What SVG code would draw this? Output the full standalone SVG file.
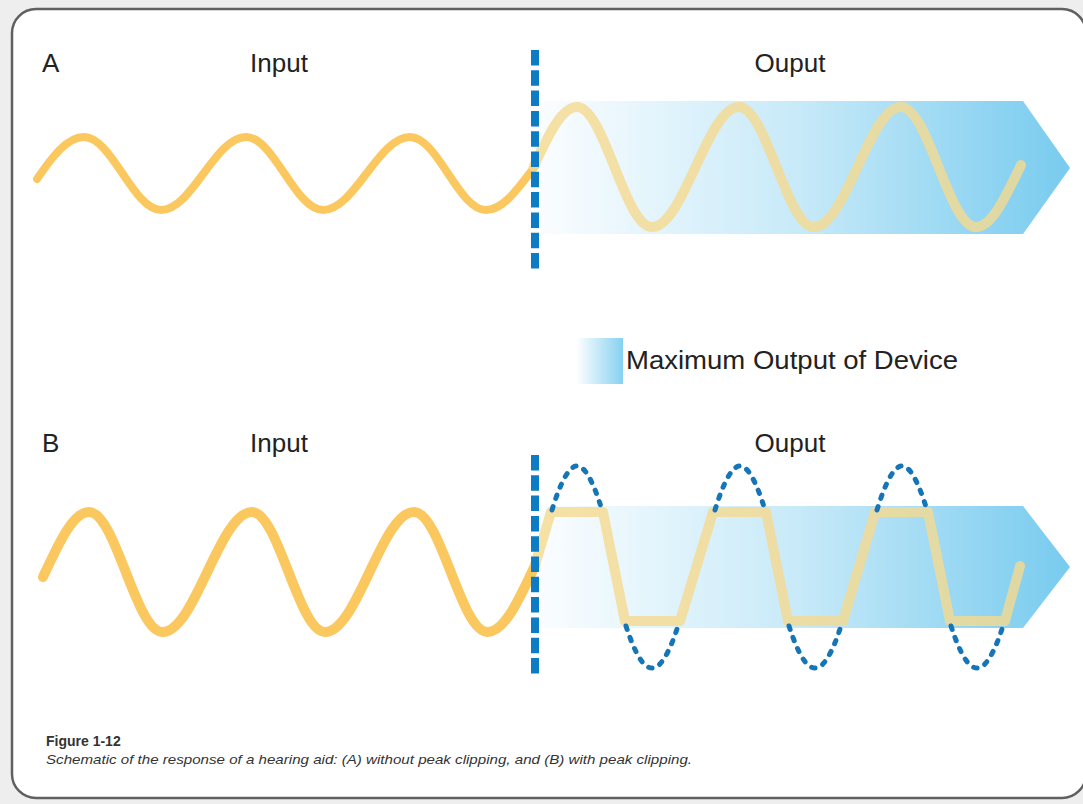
<svg xmlns="http://www.w3.org/2000/svg" width="1083" height="804" viewBox="0 0 1083 804">
  <defs>
    <linearGradient id="maxGrad" x1="0" y1="0" x2="1" y2="0">
      <stop offset="0" stop-color="#fafdff"/>
      <stop offset="0.5" stop-color="#c6e9f8"/>
      <stop offset="1" stop-color="#78cbef"/>
    </linearGradient>
    <linearGradient id="legGrad" x1="0" y1="0" x2="1" y2="0">
      <stop offset="0" stop-color="#ffffff"/>
      <stop offset="1" stop-color="#86d1f0"/>
    </linearGradient>
    <style>
      .lbl { font-family: "Liberation Sans", Arial, sans-serif; font-size: 26px; fill: #222222; }
      .input { fill: none; stroke: #fbc85f; stroke-linecap: round; stroke-linejoin: round; }
      .output { fill: none; stroke: #f5d98f; stroke-opacity: 0.8; stroke-width: 10; stroke-linecap: round; stroke-linejoin: round; }
      .divider { stroke: #0e7cc4; stroke-width: 8; stroke-dasharray: 15.5 4.8; fill: none; }
      .orig { fill: none; stroke: #1675b6; stroke-width: 5; stroke-linecap: round; stroke-dasharray: 3.5 8.5; }
      .cap { font-family: "Liberation Sans", Arial, sans-serif; fill: #333333; }
    </style>
  </defs>

  <rect x="0" y="0" width="1083" height="804" fill="#eeeeee"/>
  <rect id="frame" x="12" y="9" width="1074" height="789" rx="24" ry="24" fill="#ffffff" stroke="#606060" stroke-width="2.5"/>

  <!-- Panel A -->
  <g id="panelA">
    <text class="lbl" x="42" y="72">A</text>
    <text class="lbl" x="279" y="72" text-anchor="middle">Input</text>
    <text class="lbl" x="790" y="72" text-anchor="middle">Ouput</text>
    <polygon id="maxA" points="540,101 1023,101 1070,168 1023,234 540,234" fill="url(#maxGrad)"/>
    <path id="inputA" class="input" stroke-width="8" d="M37,179 C52,157 67,137 84,137 C112,137 133,210 161,210 C192,210 215,137 246,137 C274,137 295,210 323,210 C354.6,210 378.4,137 410,137 C437.6,137 458.4,210 486,210 C501.7,210 515.3,192.2 529.5,173.5 L535,166.5"/>
    <path id="outputA" class="output" d="M533.5,167 C547.7,136.3 561.3,107 577,107 C604.3,107 624.7,227 652,227 C683.6,227 707.4,107 739,107 C766.3,107 786.7,227 814,227 C845.6,227 869.4,107 901,107 C928.3,107 948.7,227 976,227 C991.7,227 1005.3,197.7 1021,165"/>
    <line id="dividerA" class="divider" x1="535" y1="50" x2="535" y2="273"/>
  </g>

  <!-- Legend -->
  <g id="legend">
    <rect x="576" y="338" width="47" height="46" fill="url(#legGrad)"/>
    <text class="lbl" x="626" y="369" textLength="332" lengthAdjust="spacingAndGlyphs">Maximum Output of Device</text>
  </g>

  <!-- Panel B -->
  <g id="panelB">
    <text class="lbl" x="42" y="452">B</text>
    <text class="lbl" x="279" y="452" text-anchor="middle">Input</text>
    <text class="lbl" x="790" y="452" text-anchor="middle">Ouput</text>
    <polygon id="maxB" points="540,506 1023,506 1070,567 1023,628 540,628" fill="url(#maxGrad)"/>
    <path id="inputB" class="input" stroke-width="10" d="M43,577 C58,545 72.5,512 89,512 C115.7,512 135.8,632 162.5,632 C195,632 219.5,512 252,512 C278.5,512 298.5,632 325,632 C357.3,632 381.7,512 414,512 C440.7,512 460.8,632 487.5,632 C503.6,632 517.5,602.7 532,572 L535,565"/>
    <path id="outputB" class="output" stroke-width="11" d="M535,565 L551,512 L603,512 L625,621 L680,621 L713,512 L766,512 L788,621 L843,621 L875,512 L928,512 L950,621 L1005,621 L1020,566"/>
    <g id="unclipped">
      <path class="orig" d="M552,510 C560.3,483 568.7,466 577,466 C585.3,466 593.7,483 602,510"/>
      <path class="orig" d="M715,510 C723.3,483 731.7,466 740,466 C748.3,466 756.7,483 765,510"/>
      <path class="orig" d="M877,510 C885.3,483 893.7,466 902,466 C910.3,466 918.7,483 927,510"/>
      <path class="orig" d="M626,626 C634.7,653 643.3,668 652,668 C660.7,668 669.3,653 678,626"/>
      <path class="orig" d="M789,626 C797.7,653 806.3,668 815,668 C823.7,668 832.3,653 841,626"/>
      <path class="orig" d="M951,626 C959.7,653 968.3,668 977,668 C985.7,668 994.3,653 1003,626"/>
    </g>
    <line id="dividerB" class="divider" x1="535" y1="455" x2="535" y2="678"/>
  </g>

  <!-- Caption -->
  <g id="caption">
    <text class="cap" x="46" y="746" font-size="14" font-weight="bold">Figure 1-12</text>
    <text class="cap" x="46" y="764" font-size="13.5" font-style="italic" textLength="646" lengthAdjust="spacingAndGlyphs">Schematic of the response of a hearing aid: (A) without peak clipping, and (B) with peak clipping.</text>
  </g>
</svg>
